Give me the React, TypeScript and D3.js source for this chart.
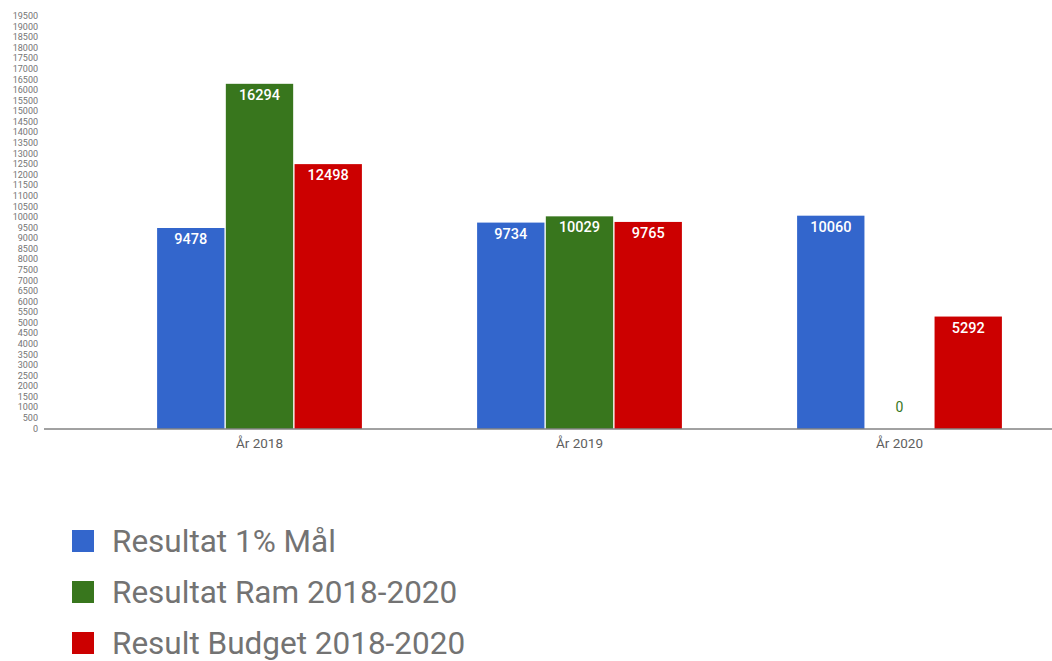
import React from "react";
import * as d3 from "d3";

const categories = ["År 2018", "År 2019", "År 2020"];
const seriesNames = ["Resultat 1% Mål", "Resultat Ram 2018-2020", "Result Budget 2018-2020"];
const seriesColors = ["#3366cc", "#38761d", "#cc0000"];
const mal = [9478, 9734, 10060];
const ram = [16294, 10029, 0];
const budget = [12498, 9765, 5292];
const yTicks = d3.range(0, 19501, 500);

const W = 1052;
const H = 661;

const App: React.FC = () => {
  const values = [mal, ram, budget];
  const y = d3.scaleLinear().domain([0, 19500]).range([428.5, 16]);
  const x0 = d3
    .scaleBand<string>()
    .domain(categories)
    .range([99.5, 1059.5])
    .paddingInner(0.36)
    .paddingOuter(0.18);
  const x1 = d3
    .scaleBand<string>()
    .domain(seriesNames)
    .range([0, x0.bandwidth()])
    .paddingInner(0.02);

  return (
    <div style={{ position: "absolute", left: 0, top: 0 }}>
      <svg width={W} height={H} style={{ display: "block", fontFamily: "Roboto, sans-serif" }}>
        <rect width={W} height={H} fill="#fff" />
        {yTicks.map((t) => (
          <text key={t} x={38} y={y(t)} dy="0.35em" textAnchor="end" fontSize={9} fill="#757575">
            {t}
          </text>
        ))}
        {categories.map((c, ci) => (
          <g key={c} transform={`translate(${x0(c)},0)`}>
            {seriesNames.map((s, si) => {
              const v = values[si][ci];
              const bx = x1(s)!;
              const bw = x1.bandwidth();
              const top = y(v);
              return (
                <g key={s}>
                  {v > 0 && (
                    <rect x={bx} y={top} width={bw} height={y(0) - top} fill={seriesColors[si]} />
                  )}
                  {v > 0 ? (
                    <text
                      x={bx + bw / 2}
                      y={top + 16}
                      textAnchor="middle"
                      fontSize={14.5}
                      fontWeight={500}
                      fill="#fff"
                    >
                      {v}
                    </text>
                  ) : (
                    <text x={bx + bw / 2} y={y(0) - 17} textAnchor="middle" fontSize={14} fill={seriesColors[si]}>
                      {v}
                    </text>
                  )}
                </g>
              );
            })}
            <text x={x0.bandwidth() / 2} y={448} textAnchor="middle" fontSize={13.5} fill="#5f5f5f">
              {c}
            </text>
          </g>
        ))}
        <line x1={44} x2={W} y1={429} y2={429} stroke="#444" strokeWidth={1} />
        {seriesNames.map((s, i) => (
          <g key={s} transform={`translate(72,${530 + i * 51})`}>
            <rect width={22} height={22} fill={seriesColors[i]} />
            <text x={40} y={11} dy="0.36em" fontSize={31.5} fill="#737373">
              {s}
            </text>
          </g>
        ))}
      </svg>
    </div>
  );
};

export default App;
